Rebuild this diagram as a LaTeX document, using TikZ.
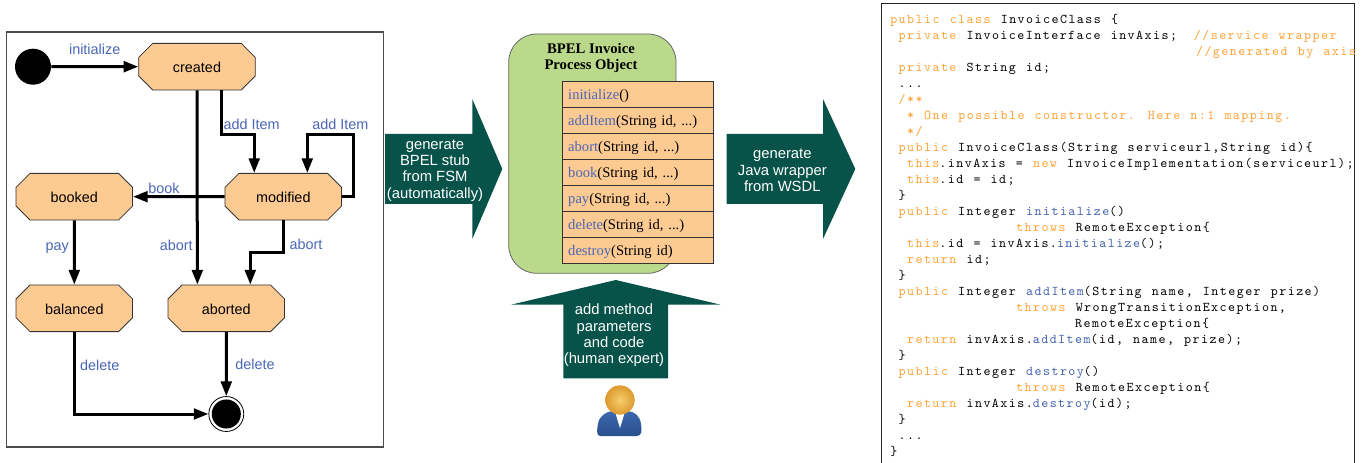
\documentclass[tikz,border=0pt]{standalone}
\usepackage{fontspec}
\setmainfont{Liberation Serif}
\setsansfont{Liberation Sans}
\newfontfamily\codefont[LetterSpace=11,WordSpace=1.2]{Latin Modern Mono}
\usetikzlibrary{arrows.meta,shapes.misc}

\definecolor{stateorange}{HTML}{FDCA92}
\definecolor{boxgreen}{HTML}{BAD98A}
\definecolor{arrowgreen}{HTML}{07534A}
\definecolor{labelblue}{HTML}{4A66B5}
\definecolor{codeorange}{HTML}{FFA033}
\definecolor{codeblue}{HTML}{4060B0}
\definecolor{suitblue}{HTML}{3C68AE}
\definecolor{suitdark}{HTML}{2A4F8E}
\definecolor{headlight}{HTML}{F6CE6E}
\definecolor{headdark}{HTML}{DD9A2E}

\newlength{\codewd}
\setlength{\codewd}{6.3pt}
\newcommand{\tabs}[1]{\hspace*{#1\codewd}}
\newcommand{\kw}[1]{\textcolor{codeorange}{#1}}
\newcommand{\fn}[1]{\textcolor{codeblue}{#1}}

\begin{document}
\begin{tikzpicture}[
  x=0.75pt,
  y=-0.75pt,
  >={Triangle[length=11pt,width=8pt]},
  state/.style={chamfered rectangle, chamfered rectangle sep=6pt, draw=black!80, line width=0.6pt, fill=stateorange, minimum width=87.4pt, minimum height=35pt, inner sep=0pt, font=\sffamily\fontsize{10.8}{12}\selectfont, text height=9pt, text depth=0pt},
  trans/.style={line width=2.25pt},
  lbl/.style={anchor=base, text=labelblue, font=\sffamily\fontsize{10.8}{12}\selectfont, inner sep=0pt},
  row/.style={draw=black!80, line width=0.7pt, fill=stateorange, anchor=north west, inner xsep=4.3pt, inner ysep=0pt, text width=104.9pt, align=left, text height=13.7pt, text depth=5.8pt, font=\fontsize{10.95}{12}\selectfont},
  bigarrow/.style={fill=arrowgreen},
  arrowtext/.style={text=white, align=center, inner sep=0pt, font=\sffamily\fontsize{11.1}{12.3}\selectfont},
]

\useasboundingbox (0,0) rectangle (1366,463);

\draw [black!70, line width=0.8pt] (6.5,32) rectangle (383.5,447);

\node [circle, fill=black, minimum size=27pt, inner sep=0pt] (init) at (33,66.7) {};
\node [state] (created) at (197,66.7) {created};
\node [state] (booked) at (74.3,196.7) {booked};
\node [state] (modified) at (283.3,196.7) {modified};
\node [state] (balanced) at (74.3,308.3) {balanced};
\node [state] (aborted) at (226.3,308.3) {aborted};
\node [circle, draw=black, line width=0.6pt, fill=white, minimum size=26.2pt, inner sep=0pt] (final) at (226.3,414) {};
\node [circle, fill=black, minimum size=21.8pt, inner sep=0pt] (finaldot) at (226.3,414) {};

\draw [trans,->] (init) -- (created);
\draw [trans,->] ([xshift=18.2pt]created.south) -- ++(0,44.3) -| ([xshift=-21.8pt]modified.north);
\draw [trans,->] (modified.east) -- ++(11.8,0) -- ++(0,-62.4) -| ([xshift=18pt]modified.north);
\draw [trans,->] (modified) -- (booked);
\draw [trans,->] (created.south) -- ([xshift=-21.7pt]aborted.north);
\draw [trans,->] (modified.south) -- ++(0,32.3) -| ([xshift=18pt]aborted.north);
\draw [trans,->] (booked) -- (balanced);
\draw [trans,->] (balanced.south) |- (final.west);
\draw [trans,->] (aborted) -- (final);

\node [lbl] (linit) at (94.7,55) {initialize};
\node [lbl] (ladd) at (251.7,129.5) {add Item};
\node [lbl] (laddself) at (340.3,129.5) {add Item};
\node [lbl] (lbook) at (164,194) {book};
\node [lbl] (lpay) at (57.3,250.5) {pay};
\node [lbl] (labort) at (176.3,250.5) {abort};
\node [lbl] (labortb) at (306,250) {abort};
\node [lbl] (ldelete) at (99.7,370) {delete};
\node [lbl] (ldeleteb) at (255,369) {delete};

\fill [bigarrow] (385,134) -- (472.3,134) -- (472.3,99) -- (502.3,169) -- (472.3,239) -- (472.3,204) -- (385,204) -- cycle;
\node [arrowtext] (tstub) at (435,170.5) {generate\\BPEL stub\\from FSM\\(automatically)};

\draw [draw=black!60, line width=0.6pt, fill=boxgreen, rounded corners=21pt] (508.7,34) rectangle (676,273.3);
\node [font=\bfseries\fontsize{11}{12.2}\selectfont, align=center, inner sep=0pt] (title) at (591,58) {BPEL Invoice\\Process Object};

\foreach \fname/\fargs [count=\i] in {initialize/(), addItem/{(String id, ...)}, abort/{(String id, ...)}, book/{(String id, ...)}, pay/{(String id, ...)}, delete/{(String id, ...)}, destroy/{(String id)}}
  \node [row] (row\i) at (562,{80.7+26*(\i-1)}) {\textcolor{labelblue}{\fname}\fargs};

\fill [bigarrow] (726.7,134) -- (823,134) -- (823,99) -- (855.3,169) -- (823,239) -- (823,204) -- (726.7,204) -- cycle;
\node [arrowtext] (twrap) at (782.3,170.5) {generate\\Java wrapper\\from WSDL};

\fill [bigarrow] (615.7,280) -- (720.7,304.7) -- (668,304.7) -- (668,378.3) -- (563.3,378.3) -- (563.3,304.7) -- (511,304.7) -- cycle;
\node [arrowtext] (tadd) at (614,335.5) {add method\\parameters\\and code\\(human expert)};

\path [top color=suitblue, bottom color=suitdark] (600,436) .. controls (596,436) and (597,428) .. (598,424) .. controls (599,416) and (606,412) .. (612,411) -- (628,411) .. controls (635,412) and (640,416) .. (641,424) .. controls (642,430) and (642,436) .. (637,436) -- cycle;
\fill [white] (615,411) -- (625,411) -- (624,415) -- (620,428) -- (616,415) -- cycle;
\node [circle, minimum size=22pt, inner sep=0pt, shading=radial, inner color=headlight, outer color=headdark] (head) at (620,400) {};

\draw [black!85, line width=0.6pt] (881,3.5) rectangle (1354,470);
\node [anchor=north west, inner sep=0pt, align=left, font=\codefont\fontsize{10}{12}\selectfont] (code) at (890,14) {%
\kw{public class} InvoiceClass \{\\
\tabs{1}\kw{private} InvoiceInterface invAxis;\tabs{2}\kw{//service wrapper}\\
\tabs{36.4}\kw{//generated by axis}\\
\tabs{1}\kw{private} String id;\\
\tabs{1}...\\
\tabs{1}\kw{/**}\\
\tabs{2}\kw{* One possible constructor. Here n:1 mapping.}\\
\tabs{2}\kw{*/}\\
\tabs{1}\kw{public} InvoiceClass(String serviceurl,String id)\{\\
\tabs{2}\kw{this}.invAxis = \kw{new} InvoiceImplementation(serviceurl);\\
\tabs{2}\kw{this}.id = id;\\
\tabs{1}\}\\
\tabs{1}\kw{public} Integer \fn{initialize}()\\
\tabs{15}\kw{throws} RemoteException\{\\
\tabs{2}\kw{this}.id = invAxis.\fn{initialize}();\\
\tabs{2}\kw{return} id;\\
\tabs{1}\}\\
\tabs{1}\kw{public} Integer \fn{addItem}(String name, Integer prize)\\
\tabs{15}\kw{throws} WrongTransitionException,\\
\tabs{22}RemoteException\{\\
\tabs{2}\kw{return} invAxis.\fn{addItem}(id, name, prize);\\
\tabs{1}\}\\
\tabs{1}\kw{public} Integer \fn{destroy}()\\
\tabs{15}\kw{throws} RemoteException\{\\
\tabs{2}\kw{return} invAxis.\fn{destroy}(id);\\
\tabs{1}\}\\
\tabs{1}...\\
\}};

\end{tikzpicture}
\end{document}
